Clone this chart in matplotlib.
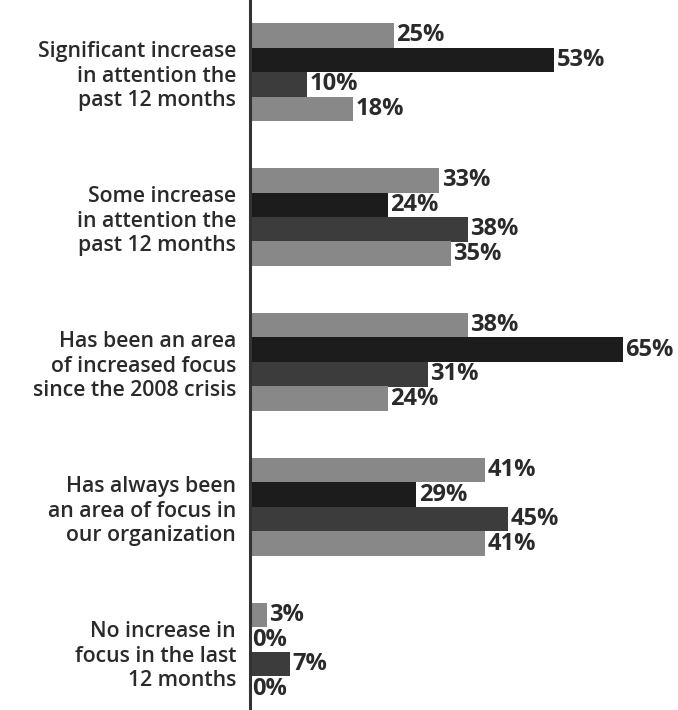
import matplotlib
matplotlib.use("Agg")
import matplotlib.pyplot as plt
import numpy as np

categories = [
    "Significant increase\nin attention the\npast 12 months",
    "Some increase\nin attention the\npast 12 months",
    "Has been an area\nof increased focus\nsince the 2008 crisis",
    "Has always been\nan area of focus in\nour organization",
    "No increase in\nfocus in the last\n12 months",
]
series_a = [25, 33, 38, 41, 3]
series_b = [53, 24, 65, 29, 0]
series_c = [10, 38, 31, 45, 7]
series_d = [18, 35, 24, 41, 0]
series = [series_a, series_b, series_c, series_d]
colors = ["#888888", "#1c1c1c", "#3c3c3c", "#888888"]

fig = plt.figure(figsize=(6.78, 7.10), dpi=100)
ax = fig.add_axes([250/678, 0, 1 - 250/678, 1])

h = 24.5 / 145
y = np.arange(len(categories))
for k, (vals, c) in enumerate(zip(series, colors)):
    ys = y + (k - 1.5) * h
    ax.barh(ys, vals, height=h, color=c, edgecolor="none", zorder=2)
    for yy, v in zip(ys, vals):
        ax.text(v + 0.4, yy, f"{v}%", va="center", ha="left",
                fontsize=17, fontweight="bold", color="#2a2a2a",
                family="Open Sans", zorder=3)

ax.set_xlim(0, 428 / 5.74)
ax.set_ylim((710 - 72) / 145, -72 / 145)
ax.set_yticks(y)
ax.set_yticklabels(categories, fontsize=15.3, family="Open Sans", fontweight="semibold",
                   color="#2a2a2a", linespacing=1.2)
ax.tick_params(axis="y", length=0, pad=10)
ax.set_xticks([])
for s in ["top", "right", "bottom"]:
    ax.spines[s].set_visible(False)
ax.spines["left"].set_linewidth(2.2)
ax.spines["left"].set_color("#333333")

fig.savefig("out.png", dpi=100)
